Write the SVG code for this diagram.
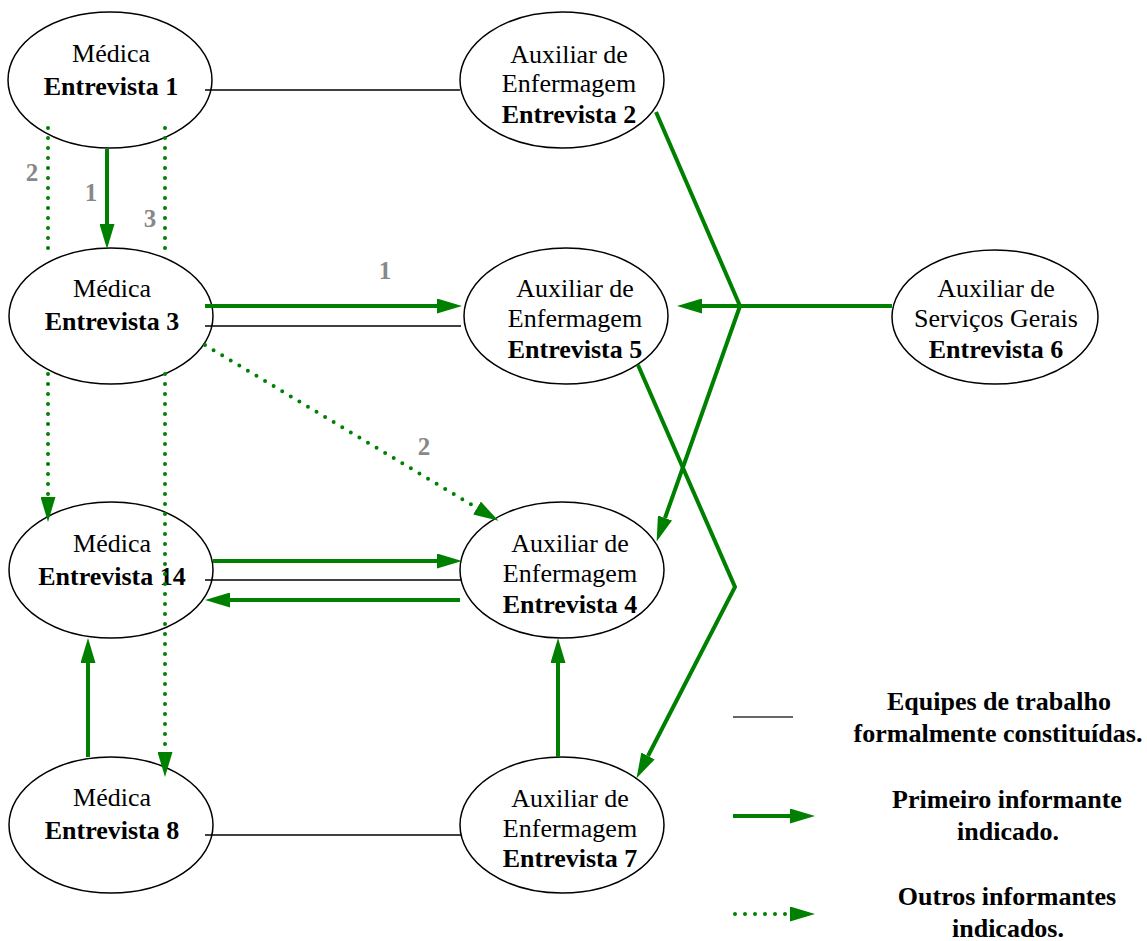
<svg xmlns="http://www.w3.org/2000/svg" width="1147" height="941" viewBox="0 0 1147 941">
<style>
.n{fill:#fff;stroke:#000;stroke-width:1.5}
.t{font-family:'Liberation Serif','DejaVu Serif',serif;font-size:26px;fill:#000;text-anchor:middle}
.b{font-weight:bold}
.k{stroke:#000;stroke-width:1.5;fill:none}
.g{stroke:#008000;stroke-width:4;fill:none}
.d{stroke:#008000;stroke-width:4;fill:none;stroke-dasharray:0 10;stroke-linecap:round}
.lb{font-family:'Liberation Serif','DejaVu Serif',serif;font-size:25px;font-weight:bold;fill:#888;text-anchor:middle}
</style>
<defs>
<marker id="ah" markerUnits="userSpaceOnUse" markerWidth="25" markerHeight="15" refX="0" refY="7.5" orient="auto" viewBox="0 0 25 15">
<path d="M0,0 L25,7.5 L0,15 z" fill="#008000"/>
</marker>
</defs>
<rect width="1147" height="941" fill="#fff"/>
<g id="e1"><ellipse class="n" cx="110" cy="80" rx="102" ry="68"/><text class="t" x="111" y="62">Médica</text><text class="t b" x="111" y="95">Entrevista 1</text></g>
<g id="e2"><ellipse class="n" cx="562" cy="80" rx="102" ry="68"/><text class="t" x="569" y="63">Auxiliar de</text><text class="t" x="569" y="92">Enfermagem</text><text class="t b" x="569" y="123">Entrevista 2</text></g>
<g id="e3"><ellipse class="n" cx="111" cy="316" rx="102" ry="68"/><text class="t" x="112" y="297">Médica</text><text class="t b" x="112" y="330">Entrevista 3</text></g>
<g id="e5"><ellipse class="n" cx="566" cy="316" rx="102" ry="68"/><text class="t" x="575" y="297">Auxiliar de</text><text class="t" x="575" y="327">Enfermagem</text><text class="t b" x="575" y="358">Entrevista 5</text></g>
<g id="e6"><ellipse class="n" cx="995" cy="317" rx="103" ry="67"/><text class="t" x="996" y="297">Auxiliar de</text><text class="t" x="996" y="327">Serviços Gerais</text><text class="t b" x="996" y="358">Entrevista 6</text></g>
<g id="e14"><ellipse class="n" cx="111" cy="570" rx="102" ry="68"/><text class="t" x="112" y="552">Médica</text><text class="t b" x="112" y="585">Entrevista 14</text></g>
<g id="e4"><ellipse class="n" cx="562" cy="570" rx="102" ry="68"/><text class="t" x="570" y="552">Auxiliar de</text><text class="t" x="570" y="582">Enfermagem</text><text class="t b" x="570" y="613">Entrevista 4</text></g>
<g id="e8"><ellipse class="n" cx="111" cy="825" rx="102" ry="68"/><text class="t" x="112" y="806">Médica</text><text class="t b" x="112" y="839">Entrevista 8</text></g>
<g id="e7"><ellipse class="n" cx="562" cy="825" rx="102" ry="68"/><text class="t" x="570" y="807">Auxiliar de</text><text class="t" x="570" y="837">Enfermagem</text><text class="t b" x="570" y="867">Entrevista 7</text></g>
<g id="connectors">
<path class="k" d="M205,90 H460"/>
<path class="k" d="M205,326 H461"/>
<path class="k" d="M205,580 H461"/>
<path class="k" d="M205,835 H461"/>
<path class="g" d="M107,149 V224" marker-end="url(#ah)"/>
<path class="g" d="M205,306 H437" marker-end="url(#ah)"/>
<path class="g" d="M892,306 H702" marker-end="url(#ah)"/>
<path class="g" d="M656,112 L740,306 L665,518" marker-end="url(#ah)"/>
<path class="g" d="M638,365 L735,587 L648,756" marker-end="url(#ah)"/>
<path class="g" d="M213,561 H437" marker-end="url(#ah)"/>
<path class="g" d="M460,600 H230" marker-end="url(#ah)"/>
<path class="g" d="M88,757 V663" marker-end="url(#ah)"/>
<path class="g" d="M558,757 V663" marker-end="url(#ah)"/>
<path class="d" d="M48,128 V257"/>
<path class="d" d="M48,374 V497" marker-end="url(#ah)"/>
<path class="d" d="M165,128 V257"/>
<path class="d" d="M165,374 V752" marker-end="url(#ah)"/>
<path class="d" d="M205,345 L477,508" marker-end="url(#ah)"/>
<text class="lb" x="32" y="181">2</text>
<text class="lb" x="91" y="201">1</text>
<text class="lb" x="150" y="227">3</text>
<text class="lb" x="385" y="279">1</text>
<text class="lb" x="424" y="455">2</text>
</g>
<g id="legend">
<path d="M733,717 H793" stroke="#333" stroke-width="1.5" fill="none"/>
<path class="g" d="M733,816 H790" marker-end="url(#ah)"/>
<path class="d" d="M735,914 H790" marker-end="url(#ah)"/>
<text class="t b" x="999" y="710">Equipes de trabalho</text>
<text class="t b" x="998" y="742">formalmente constituídas.</text>
<text class="t b" x="1007" y="808">Primeiro informante</text>
<text class="t b" x="1008" y="840">indicado.</text>
<text class="t b" x="1007" y="905">Outros informantes</text>
<text class="t b" x="1008" y="937">indicados.</text>
</g>
</svg>
